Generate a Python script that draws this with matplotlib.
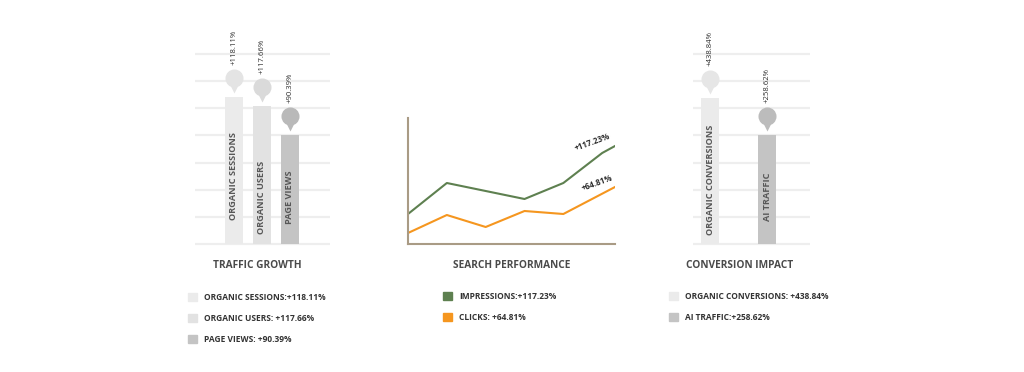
import matplotlib
matplotlib.use("Agg")
import matplotlib.pyplot as plt
from matplotlib.patches import Patch

plt.rcParams['font.family'] = ['Open Sans', 'DejaVu Sans']

W, H = 1024, 372

# traffic growth (bar heights in grid units)
traffic_names = ["ORGANIC SESSIONS", "ORGANIC USERS", "PAGE VIEWS"]
traffic_heights = [5.42, 5.09, 4.02]
traffic_pct = ["+118.11%", "+117.66%", "+90.39%"]
traffic_text_y = [2.51, 1.70, 1.74]
traffic_colors = ["#ebebeb", "#e2e2e2", "#c4c4c4"]
traffic_pin = ["#e4e4e4", "#dadada", "#b9b9b9"]
traffic_legend = ["ORGANIC SESSIONS:+118.11%", "ORGANIC USERS: +117.66%", "PAGE VIEWS: +90.39%"]

# conversion impact
conv_names = ["ORGANIC CONVERSIONS", "AI TRAFFIC"]
conv_heights = [5.39, 4.02]
conv_pct = ["+438.84%", "+258.62%"]
conv_text_y = [2.36, 1.73]
conv_colors = ["#ebebeb", "#c4c4c4"]
conv_pin = ["#e6e6e6", "#bcbcbc"]
conv_legend = ["ORGANIC CONVERSIONS: +438.84%", "AI TRAFFIC:+258.62%"]

# search performance
x_imp = [0, 1, 2, 3, 4, 5, 5.33]
impressions = [30, 61, 53, 45, 61, 91, 98]
x_clk = [0, 1, 2, 3, 4, 5.33]
clicks = [11, 29, 17, 33, 30, 57]
search_legend = ["IMPRESSIONS:+117.23%", "CLICKS: +64.81%"]
green = "#5e8050"
orange = "#f5961f"

TXT = "#4a4a4a"


def px_axes(fig, x0, x1, ytop, ybot):
    return fig.add_axes([x0 / W, (H - ybot) / H, (x1 - x0) / W, (ybot - ytop) / H])


def bar_panel(ax, names, heights, pct, text_y, colors, pins, xlim, width):
    ax.set_xlim(*xlim)
    ax.set_ylim(0, 7)
    ax.axis("off")
    ax.hlines(range(8), xlim[0], xlim[1], color="#eeeeee", lw=1.6, clip_on=False, zorder=0)
    pos = list(range(len(names)))
    ax.bar(pos, heights, width=width, color=colors, zorder=2)
    for i in pos:
        h = heights[i]
        ax.plot(i, h + 0.33, marker="v", ms=7, color=pins[i], mec="none", zorder=3, clip_on=False)
        ax.plot(i, h + 0.70, marker="o", ms=13, color=pins[i], mec="none", zorder=3, clip_on=False)
        ax.text(i, h + 1.18, pct[i], rotation=90, ha="center", va="bottom",
                fontsize=5.6, color="#2e2e2e", clip_on=False)
        ax.text(i, text_y[i], names[i], rotation=90, ha="center", va="center",
                fontsize=6.6, fontweight="bold", color="#575757", zorder=4)


fig = plt.figure(figsize=(W / 100, H / 100), dpi=100)
fig.patch.set_facecolor("white")

# left panel
ax1 = px_axes(fig, 195, 330, 54, 244)
bar_panel(ax1, traffic_names, traffic_heights, traffic_pct, traffic_text_y,
          traffic_colors, traffic_pin, (-1.39, 3.43), 0.64)

# right panel
ax3 = px_axes(fig, 693, 810, 54, 244)
bar_panel(ax3, conv_names, conv_heights, conv_pct, conv_text_y,
          conv_colors, conv_pin, (-0.30, 1.75), 0.32)

# middle panel
ax2 = px_axes(fig, 408, 615, 118, 244)
ax2.plot(x_imp, impressions, color=green, lw=1.5)
ax2.plot(x_clk, clicks, color=orange, lw=1.5)
ax2.set_xlim(0, 5.33)
ax2.set_ylim(0, 126)
for s in ["top", "right"]:
    ax2.spines[s].set_visible(False)
for s in ["left", "bottom"]:
    ax2.spines[s].set_color("#a99b85")
    ax2.spines[s].set_linewidth(1.5)
ax2.set_xticks([])
ax2.set_yticks([])
ax2.annotate("+117.23%", (x_imp[-1], impressions[-1]), xytext=(-16, 3), textcoords="offset points",
             rotation=20, ha="center", va="center", fontsize=5.8, fontweight="bold", color="#2e2e2e")
ax2.annotate("+64.81%", (x_clk[-1], clicks[-1]), xytext=(-13, 3), textcoords="offset points",
             rotation=20, ha="center", va="center", fontsize=5.8, fontweight="bold", color="#2e2e2e")

# titles
for xc, title in [(257, "TRAFFIC GROWTH"), (512, "SEARCH PERFORMANCE"), (740, "CONVERSION IMPACT")]:
    fig.text(xc / W, 1 - 265 / H, title, ha="center", va="center", fontsize=7.3,
             fontweight="bold", color=TXT)

# legends
leg_kw = dict(frameon=False, loc="upper left", fontsize=6.0, handlelength=1.05, handleheight=1.05,
              handletextpad=0.85, labelspacing=1.45, borderaxespad=0, borderpad=0)

h1 = [Patch(color=c) for c in traffic_colors]
l1 = fig.legend(h1, traffic_legend, bbox_to_anchor=(188 / W, 1 - 293 / H), **leg_kw)
h2 = [Patch(color=green), Patch(color=orange)]
l2 = fig.legend(h2, search_legend, bbox_to_anchor=(443 / W, 1 - 292 / H), **leg_kw)
h3 = [Patch(color=c) for c in conv_colors]
l3 = fig.legend(h3, conv_legend, bbox_to_anchor=(669 / W, 1 - 292 / H), **leg_kw)
for lg in (l1, l2, l3):
    for t in lg.get_texts():
        t.set_fontweight("bold")
        t.set_color("#333333")

fig.savefig("out.png", dpi=100, facecolor="white")
